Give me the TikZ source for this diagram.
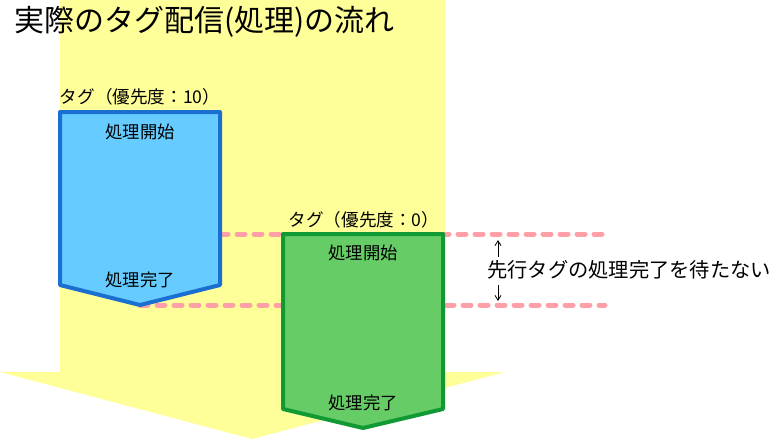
\documentclass[tikz,border=0pt]{standalone}
\usepackage{fontspec}
\setmainfont{Noto Sans CJK JP}
\usetikzlibrary{arrows.meta, positioning}
\definecolor{flowyellow}{HTML}{FFFF99}
\definecolor{tagblue}{HTML}{66CCFF}
\definecolor{tagblueline}{HTML}{1A6FD0}
\definecolor{taggreen}{HTML}{66CC66}
\definecolor{taggreenline}{HTML}{119933}
\definecolor{waitpink}{HTML}{FFA0A8}
\tikzset{
  flow/.style={fill=flowyellow, draw=none},
  tagbox/.style={line width=3pt, line join=round},
  tagBlue/.style={tagbox, draw=tagblueline, fill=tagblue},
  tagGreen/.style={tagbox, draw=taggreenline, fill=taggreen},
  boxtext/.style={font=\fontsize{13}{15}\selectfont, inner sep=0pt},
  taglabel/.style={font=\fontsize{13.2}{15}\selectfont, inner sep=0pt},
  titletext/.style={font=\fontsize{22.5}{27}\selectfont, inner sep=0pt, anchor=west},
  waitline/.style={line width=3.75pt, dash pattern=on 6pt off 6.75pt, line cap=round, waitpink},
  note/.style={font=\fontsize{15.2}{18}\selectfont, inner sep=0pt, anchor=west},
  arrow/.style={-{Straight Barb[length=1.3mm, width=1.6mm]}, line width=0.6pt, black},
}

\begin{document}
\begin{tikzpicture}[x=0.75pt, y=-0.75pt]
\useasboundingbox (0,0) rectangle (780,439);

% big flow arrow
\fill[flow] (60,0) -- (445,0) -- (445,372) -- (505,372) -- (252,439)
  -- (0,372) -- (60,372) -- cycle;
\node[titletext] (title) at (14,22) {実際のタグ配信(処理)の流れ};

% wait lines (behind the boxes)
\coordinate (topL) at (220,234);
\coordinate (topR) at (605,234);
\coordinate (botL) at (140,305);
\coordinate (botR) at (605,305);
\draw[waitline] (topL) -- (topR);
\draw[waitline] (botL) -- (botR);

% tag boxes
\draw[tagBlue] (60,112) -- (220,112) -- (220,285) -- (140,305) -- (60,285) -- cycle;
\draw[tagGreen] (283,234) -- (443,234) -- (443,409) -- (363,428) -- (283,409) -- cycle;

\node[taglabel] (hiTag) at (140,97) {タグ（優先度：10）};
\node[boxtext] (hiStart) at (140,132) {処理開始};
\node[boxtext] (hiEnd) at (140,280) {処理完了};

\node[taglabel] (loTag) at (364,220) {タグ（優先度：0）};
\node[boxtext] (loStart) at (363,253) {処理開始};
\node[boxtext] (loEnd) at (363,403) {処理完了};

% note
\node[note] (nowait) at (487,270) {先行タグの処理完了を待たない};
\coordinate (upTail) at (498,257);
\coordinate (upTip) at (498,240);
\coordinate (dnTail) at (498,285);
\coordinate (dnTip) at (498,301);
\draw[arrow] (upTail) -- (upTip);
\draw[arrow] (dnTail) -- (dnTip);
\end{tikzpicture}
\end{document}
